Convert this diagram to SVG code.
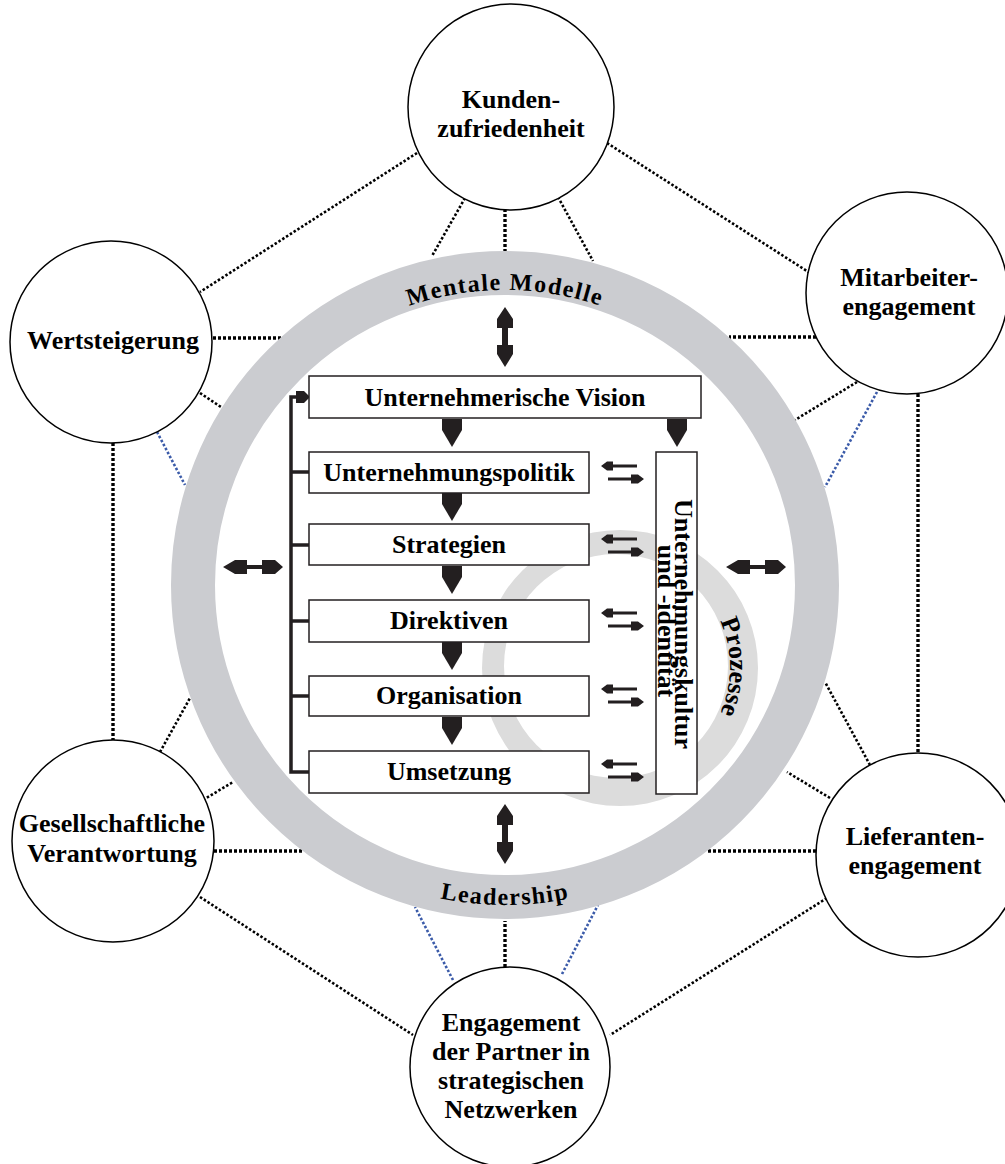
<svg xmlns="http://www.w3.org/2000/svg" xmlns:xlink="http://www.w3.org/1999/xlink" width="1005" height="1164" viewBox="0 0 1005 1164">
<style>
text{font-family:"Liberation Serif","Times New Roman",serif;font-weight:bold;fill:#000}
.lbl{font-size:26px;text-anchor:middle}
.ring{font-size:24px}
.node{fill:#fff;stroke:#000;stroke-width:1.5}
.box{fill:#fff;stroke:#231f20;stroke-width:1.5}
.dot{stroke:#000;stroke-width:2.6;stroke-dasharray:2.5 2;fill:none}
.dotv{stroke:#000;stroke-width:3.4;stroke-dasharray:3 2;fill:none}
.blue{stroke:#3b5ba9}
.blk{fill:#231f20}
.brk{stroke:#231f20;stroke-width:3.5;fill:none}
</style>
<defs>
<path id="down" d="M-10,0 H10 V11 L0,28 L-10,11 Z"/>
<path id="vdbl" d="M0,0 L8,12 V21 H3 V38 H8 V47 L0,60 L-8,47 V38 H-3 V21 H-8 V12 Z"/>
<path id="hdbl" d="M0,0 L12,-7 H24 V-2 H39 V-7 H52 L60,0 L52,7 H39 V2 H24 V7 H12 Z"/>
<g id="pair">
<path d="M1,-6 L7,-10.5 H13 V-1.5 H7 Z M13,-7.5 H37 V-4.5 H13 Z"/>
<path d="M44,7 L38,2.5 H31 V11.5 H38 Z M8,5.5 H31 V8.5 H8 Z"/>
</g>
<path id="pTop" d="M210,585 A295,295 0 0 1 800,585"/>
<path id="pBot" d="M185,585 A320,320 0 0 0 825,585"/>
<path id="pPro" d="M618,555 A112,112 0 0 1 618,779"/>
</defs>

<g id="connectors">
<line class="dot" x1="417" y1="153" x2="200" y2="292"/>
<line class="dot" x1="607" y1="143" x2="810" y2="273"/>
<line class="dot" x1="465" y1="198" x2="432" y2="256"/>
<line class="dotv" x1="505" y1="209" x2="505" y2="252"/>
<line class="dot" x1="558" y1="197" x2="593" y2="261"/>
<line class="dotv" x1="213" y1="338" x2="281" y2="338"/>
<line class="dot" x1="200" y1="393" x2="221" y2="407"/>
<line class="dot blue" x1="157" y1="432" x2="185" y2="485"/>
<line class="dotv" x1="113" y1="443" x2="113" y2="740"/>
<line class="dotv" x1="816" y1="337" x2="729" y2="337"/>
<line class="dot" x1="857" y1="382" x2="795" y2="420"/>
<line class="dot blue" x1="877" y1="392" x2="825" y2="487"/>
<line class="dotv" x1="918" y1="394" x2="918" y2="753"/>
<line class="dotv" x1="816" y1="851" x2="707" y2="851"/>
<line class="dot" x1="830" y1="798" x2="787" y2="772"/>
<line class="dot" x1="870" y1="765" x2="825" y2="682"/>
<line class="dot" x1="827" y1="898" x2="610" y2="1035"/>
<line class="dot" x1="160" y1="752" x2="190" y2="698"/>
<line class="dot" x1="203" y1="800" x2="233" y2="782"/>
<line class="dotv" x1="214" y1="851" x2="302" y2="851"/>
<line class="dot" x1="200" y1="897" x2="413" y2="1035"/>
<line class="dotv" x1="505" y1="967" x2="505" y2="921"/>
<line class="dot blue" x1="453" y1="980" x2="415" y2="907"/>
<line class="dot blue" x1="562" y1="974" x2="598" y2="905"/>
</g>

<g id="rings">
<circle cx="505" cy="585" r="312" fill="none" stroke="#cbccd0" stroke-width="44"/>
<path fill="#dcdcdc" fill-rule="evenodd" d="M482,668 A138,138 0 1 0 758,668 A138,138 0 1 0 482,668 Z M504,666 A112,112 0 1 0 728,666 A112,112 0 1 0 504,666 Z"/>
<text class="ring" fill="#111"><textPath xlink:href="#pTop" href="#pTop" startOffset="50%" text-anchor="middle" letter-spacing="1.5">Mentale Modelle</textPath></text>
<text class="ring" fill="#111"><textPath xlink:href="#pBot" href="#pBot" startOffset="50%" text-anchor="middle" letter-spacing="1.5">Leadership</textPath></text>
<text style="font-size:26px" fill="#111"><textPath xlink:href="#pPro" href="#pPro" startOffset="50%" text-anchor="middle">Prozesse</textPath></text>
</g>

<g id="node-kunden">
<circle class="node" cx="511" cy="107" r="103"/>
<text class="lbl" x="511" y="108">Kunden-</text>
<text class="lbl" x="511" y="137">zufriedenheit</text>
</g>
<g id="node-mitarbeiter">
<circle class="node" cx="907" cy="293" r="101"/>
<text class="lbl" x="909" y="286">Mitarbeiter-</text>
<text class="lbl" x="909" y="315">engagement</text>
</g>
<g id="node-wert">
<circle class="node" cx="111" cy="342" r="101"/>
<text class="lbl" x="113" y="349">Wertsteigerung</text>
</g>
<g id="node-gesellschaft">
<circle class="node" cx="113" cy="841" r="101"/>
<text class="lbl" x="112" y="832">Gesellschaftliche</text>
<text class="lbl" x="112" y="862">Verantwortung</text>
</g>
<g id="node-lieferanten">
<circle class="node" cx="918" cy="855" r="102"/>
<text class="lbl" x="915" y="845">Lieferanten-</text>
<text class="lbl" x="915" y="874">engagement</text>
</g>
<g id="node-partner">
<circle class="node" cx="510" cy="1067" r="100"/>
<text class="lbl" x="511" y="1031">Engagement</text>
<text class="lbl" x="511" y="1060">der Partner in</text>
<text class="lbl" x="511" y="1089">strategischen</text>
<text class="lbl" x="511" y="1118">Netzwerken</text>
</g>

<g id="bracket">
<path class="brk" d="M298,397 H291 V772 H309 M289.5,472 H309 M289.5,545 H309 M289.5,621 H309 M289.5,696 H309"/>
<path class="blk" d="M296,391 H304 L310,397 L304,403 H296 Z"/>
</g>

<g id="flow-arrows" class="blk">
<use href="#down" xlink:href="#down" x="452" y="419"/>
<use href="#down" xlink:href="#down" x="677" y="419"/>
<use href="#down" xlink:href="#down" x="452" y="493"/>
<use href="#down" xlink:href="#down" x="452" y="566"/>
<use href="#down" xlink:href="#down" x="452" y="642"/>
<use href="#down" xlink:href="#down" x="452" y="717"/>
<use href="#vdbl" xlink:href="#vdbl" x="505" y="307"/>
<use href="#vdbl" xlink:href="#vdbl" x="505" y="804"/>
<use href="#hdbl" xlink:href="#hdbl" x="223" y="567"/>
<use href="#hdbl" xlink:href="#hdbl" x="726" y="567"/>
<use href="#pair" xlink:href="#pair" x="600" y="472"/>
<use href="#pair" xlink:href="#pair" x="600" y="545"/>
<use href="#pair" xlink:href="#pair" x="600" y="619"/>
<use href="#pair" xlink:href="#pair" x="600" y="695"/>
<use href="#pair" xlink:href="#pair" x="600" y="770"/>
</g>

<g id="node-vision">
<rect class="box" x="309" y="376" width="392" height="42"/>
<text class="lbl" x="505" y="406">Unternehmerische Vision</text>
</g>
<g id="node-politik">
<rect class="box" x="309" y="452" width="280" height="41"/>
<text class="lbl" x="449" y="481">Unternehmungspolitik</text>
</g>
<g id="node-strategien">
<rect class="box" x="309" y="524" width="280" height="41"/>
<text class="lbl" x="449" y="553">Strategien</text>
</g>
<g id="node-direktiven">
<rect class="box" x="309" y="600" width="280" height="42"/>
<text class="lbl" x="449" y="629">Direktiven</text>
</g>
<g id="node-organisation">
<rect class="box" x="309" y="676" width="280" height="40"/>
<text class="lbl" x="449" y="704">Organisation</text>
</g>
<g id="node-umsetzung">
<rect class="box" x="309" y="751" width="280" height="42"/>
<text class="lbl" x="449" y="780">Umsetzung</text>
</g>
<g id="node-kultur">
<rect class="box" x="656" y="452" width="41" height="342"/>
<text class="lbl" transform="translate(675,624) rotate(90)">Unternehmungskultur</text>
<text class="lbl" transform="translate(658,621) rotate(90)">und -identität</text>
</g>
</svg>
